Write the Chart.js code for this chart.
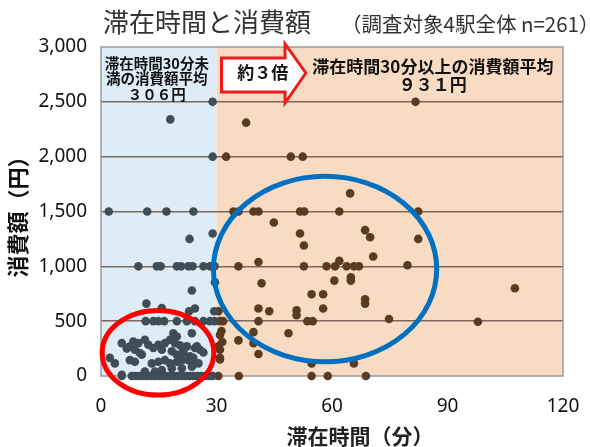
<!DOCTYPE html>
<html><head><meta charset="utf-8">
<script src="https://cdn.jsdelivr.net/npm/chart.js@4"></script>
<style>html,body{margin:0;padding:0;background:#fff}#wrap{width:590px;height:447px;position:relative}</style>
</head><body><div id="wrap"><canvas id="c"></canvas></div>
<script>
const titleMain = '滞在時間と消費額';
const titleSub = '（調査対象4駅全体 n=261）';
const xTitle = '滞在時間（分）';
const yTitle = '消費額（円）';
const xTickValues = [0, 30, 60, 90, 120];
const yTickValues = [0, 500, 1000, 1500, 2000, 2500, 3000];
const splitMinutes = 30;
const noteUnder = ['滞在時間30分未', '満の消費額平均', '３０６円'];
const noteOver = ['滞在時間30分以上の消費額平均', '９３１円'];
const noteRatio = '約３倍';

// 30分未満 (gray)
const under30X = [29, 18, 29, 2, 12, 17, 24, 29, 23,
  9.7, 14.5, 15.5, 19.7, 20.8, 22.7, 23.8, 26.6, 28.3, 29.5,
  23.6, 11.8, 15.8, 22.9, 24.4, 29.4, 29.6,
  11.6, 13.6, 14.9, 16.4, 19.7, 22.3, 24.4, 26.6, 28.3, 29.5,
  23.6, 18.8, 19.7, 17.9,
  5.4, 6.7, 7.5, 8.4, 9.7, 8.8, 11.4, 12.3, 13.6, 14.9, 16.6, 15.8, 19.2, 20.5, 18.4, 19.7, 21.4, 22.3, 24.4, 24.9, 25.7, 26.6, 21.4, 23.1,
  2.3, 3.6, 7.5, 8.8, 10.1, 10.6, 13.2, 14.9, 16.6, 17.9, 19.7, 21, 22.7, 24, 25.3, 24,
  11.4, 14, 15.8, 18.4, 21, 23.6, 5.4,
  5.4, 8, 9, 10, 11, 12, 13, 14, 15, 16, 17, 18, 19, 20, 21, 22, 23, 24, 25, 26, 27, 28, 29];
const under30Y = [2500, 2340, 2000, 1500, 1500, 1500, 1500, 1300, 1250,
  1000, 1000, 1000, 1000, 1000, 1000, 1000, 1000, 1000, 1000,
  780, 660, 620, 590, 615, 590, 855,
  500, 500, 500, 500, 500, 500, 500, 500, 500, 500,
  390, 390, 360, 330,
  300, 250, 270, 315, 300, 240, 330, 285, 255, 285, 300, 240, 300, 280, 225, 195, 240, 270, 255, 270, 240, 215, 210, 180,
  165, 115, 145, 130, 210, 195, 115, 130, 145, 115, 130, 145, 145, 165, 115, 110,
  40, 40, 55, 70, 70, 85, 10,
  0, 0, 0, 0, 0, 0, 0, 0, 0, 0, 0, 0, 0, 0, 0, 0, 0, 0, 0, 0, 0, 0, 0];

// 30分以上 (brown)
const over30X = [32.5, 49.3, 52.4, 37.7, 81.7,
  64.7, 34.4, 35.7, 39.6, 40.9, 51.7, 52.8, 61.9, 82.4, 44.9,
  51.7, 52.7, 68.6, 69.9, 82.4, 70.7, 79.6,
  35.7, 40.9, 52.7, 58.6, 60.8, 61.9, 63.8, 65.7, 67,
  41.7, 60.6, 64.9, 64.9, 54.7, 57.7, 57.7, 68.6, 68.6,
  40.9, 43.7, 50.8, 50.8, 53.6, 55, 74.8, 40.9, 30.9, 31.7, 30.5,
  39.6, 48.7, 35.7, 39.6, 30.9, 31.5, 30.5, 30.9, 30.9, 40.9, 54.7, 65.7, 30.9, 31.3,
  107.5, 97.9,
  30.5, 35.8, 54.7, 58.9, 68.8];
const over30Y = [2000, 2000, 2000, 2310, 2500,
  1665, 1500, 1500, 1500, 1500, 1500, 1500, 1500, 1500, 1400,
  1300, 1190, 1330, 1265, 1250, 1090, 1010,
  1000, 1040, 1000, 1000, 1000, 1050, 1000, 1000, 1000,
  845, 870, 900, 870, 745, 745, 615, 700, 660,
  615, 590, 600, 555, 500, 500, 520, 500, 500, 500, 590,
  400, 390, 325, 300, 375, 310, 270, 240, 150, 200, 115, 115, 165, 410,
  800, 495,
  0, 0, 0, 0, 0];

const toPts = (xs, ys) => xs.map((v, i) => ({x: v, y: ys[i]}));

const NUM_FONT = '"Noto Sans", "Noto Sans CJK JP", sans-serif';
const JP_FONT = '"Noto Sans CJK JP", "Noto Sans", sans-serif';

const decor = {
  id: 'decor',
  beforeDraw(chart) {
    const {ctx, chartArea: a, scales: {x}} = chart;
    const xs = x.getPixelForValue(splitMinutes);
    ctx.save();
    ctx.fillStyle = '#ffffff';
    ctx.fillRect(0, 0, chart.width, chart.height);
    ctx.fillStyle = '#deedf5';
    ctx.fillRect(a.left, a.top, xs - a.left, a.bottom - a.top);
    ctx.fillStyle = '#f8dbc3';
    ctx.fillRect(xs, a.top, a.right - xs, a.bottom - a.top);
    ctx.restore();
  },
  beforeDatasetsDraw(chart) {
    const {ctx, chartArea: a} = chart;
    ctx.save();
    ctx.strokeStyle = '#9a9a9a';
    ctx.lineWidth = 1.5;
    ctx.strokeRect(a.left, a.top, a.right - a.left, a.bottom - a.top);
    ctx.restore();
  },
  afterDatasetsDraw(chart) {
    const {ctx, scales: {x, y}} = chart;
    const ell = (cx, cy, rx, ry, color) => {
      const px = x.getPixelForValue(cx), py = y.getPixelForValue(cy);
      const prx = x.getPixelForValue(cx + rx) - px;
      const pry = py - y.getPixelForValue(cy + ry);
      ctx.beginPath();
      ctx.ellipse(px, py, prx, pry, 0, 0, Math.PI * 2);
      ctx.strokeStyle = color;
      ctx.lineWidth = 5;
      ctx.stroke();
    };
    ctx.save();
    ell(14.8, 212, 14.5, 386, '#ff0000');
    ell(58.2, 975, 29, 846, '#0070c0');
    ctx.restore();
  },
  afterDraw(chart) {
    const {ctx, chartArea: a, scales: {x}} = chart;
    ctx.save();
    // title
    ctx.fillStyle = '#333333';
    ctx.textBaseline = 'middle';
    ctx.textAlign = 'left';
    ctx.font = '26px ' + JP_FONT;
    ctx.fillText(titleMain, a.left + 2, 22);
    ctx.font = '20.5px ' + JP_FONT;
    ctx.fillText(titleSub, 341, 24);

    // x axis title
    ctx.fillStyle = '#222222';
    ctx.textAlign = 'center';
    ctx.font = 'bold 21px ' + JP_FONT;
    ctx.fillText(xTitle, x.getPixelForValue(67.3), 436);

    // left note
    ctx.fillStyle = '#111111';
    ctx.font = 'bold 14.5px ' + JP_FONT;
    const lx = x.getPixelForValue(14.5);
    ctx.fillText(noteUnder[0], lx, a.top + 16);
    ctx.fillText(noteUnder[1], lx, a.top + 31);
    ctx.fillText(noteUnder[2], lx, a.top + 47);

    // arrow
    const bl = x.getPixelForValue(31.3), br = x.getPixelForValue(47.8), tip = x.getPixelForValue(53.2);
    const bt = a.top + 11, bb = a.top + 45, ht = a.top - 3, hb = a.top + 56, ty = a.top + 26;
    ctx.beginPath();
    ctx.moveTo(bl, bt); ctx.lineTo(br, bt); ctx.lineTo(br, ht); ctx.lineTo(tip, ty);
    ctx.lineTo(br, hb); ctx.lineTo(br, bb); ctx.lineTo(bl, bb); ctx.closePath();
    ctx.fillStyle = '#ffffff';
    ctx.fill();
    ctx.strokeStyle = '#ee1c1c';
    ctx.lineWidth = 3;
    ctx.lineJoin = 'miter';
    ctx.stroke();
    ctx.fillStyle = '#111111';
    ctx.font = 'bold 17px ' + JP_FONT;
    ctx.fillText(noteRatio, x.getPixelForValue(42), ty);

    // right note
    ctx.font = 'bold 17px ' + JP_FONT;
    const rx = x.getPixelForValue(86.2);
    ctx.fillText(noteOver[0], rx, a.top + 20);
    ctx.fillText(noteOver[1], rx, a.top + 38);
    ctx.restore();
  }
};

new Chart(document.getElementById('c'), {
  type: 'scatter',
  data: {
    datasets: [
      {label: '30分未満', data: toPts(under30X, under30Y), backgroundColor: '#3e4d56', borderWidth: 0, pointRadius: 4.3, clip: false},
      {label: '30分以上', data: toPts(over30X, over30Y), backgroundColor: '#5a3b20', borderWidth: 0, pointRadius: 4.3, clip: false}
    ]
  },
  options: {
    responsive: true,
    maintainAspectRatio: false,
    animation: false,
    events: [],
    locale: 'en-US',
    layout: {padding: {top: 47, right: 27, left: 0, bottom: 0}},
    plugins: {legend: {display: false}, title: {display: false}, tooltip: {enabled: false}},
    scales: {
      x: {
        type: 'linear', min: 0, max: 120,
        afterBuildTicks: s => { s.ticks = xTickValues.map(v => ({value: v})); },
        afterFit: s => { s.height = 71; s.paddingRight = 0; s.paddingLeft = 0; },
        grid: {display: false, drawTicks: false},
        border: {display: false},
        ticks: {padding: 19, color: '#111', font: {family: NUM_FONT, size: 19}, maxRotation: 0}
      },
      y: {
        type: 'linear', min: 0, max: 3000,
        afterBuildTicks: s => { s.ticks = yTickValues.map(v => ({value: v})); },
        afterFit: s => { s.width = 101; },
        grid: {
          drawTicks: false,
          color: c => (c.tick.value === 0 || c.tick.value === 3000) ? 'rgba(0,0,0,0)' : '#7d675a',
          lineWidth: 1.4
        },
        border: {display: false},
        ticks: {padding: 14, color: '#111', font: {family: NUM_FONT, size: 19}},
        title: {display: true, text: yTitle, color: '#111', padding: {top: 4, bottom: 0}, font: {family: JP_FONT, size: 22, weight: 'bold'}}
      }
    }
  },
  plugins: [decor]
});
</script>
</body></html>
